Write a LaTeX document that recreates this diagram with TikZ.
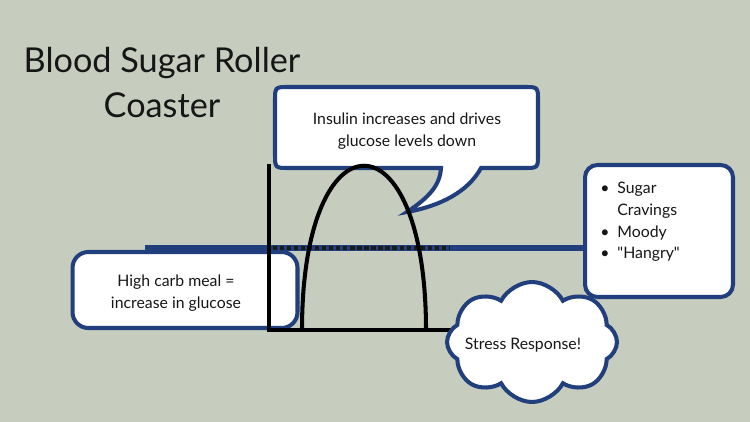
\documentclass[tikz,border=0pt]{standalone}
\usepackage{fontspec}
\setmainfont{Lato}[Ligatures=TeXOff]
\usetikzlibrary{shapes.symbols}
\definecolor{bg}{RGB}{198,205,191}
\definecolor{navy}{RGB}{33,63,124}
\definecolor{ink}{RGB}{22,22,22}
\tikzset{
  bluebox/.style={draw=navy, line width=2.3pt, fill=white, rounded corners=7pt, inner sep=0pt},
  txt/.style={text=ink, font=\fontsize{9}{12.3}\selectfont, align=center, inner sep=0pt},
  titletxt/.style={text=ink, font=\fontsize{19.5}{25}\selectfont, inner sep=0pt, anchor=base},
  blackline/.style={draw=black, line width=2.3pt},
}
\begin{document}
\begin{tikzpicture}[x=0.02cm, y=-0.02cm]
\fill[bg] (0,0) rectangle (750,422);
\useasboundingbox (0,0) rectangle (750,422);

% title
\node[titletxt] (t1) at (162,73) {Blood Sugar Roller};
\node[titletxt] (t2) at (162,118) {Coaster};

% baseline (blue) with dashed overlay
\coordinate (bl) at (145,248);
\coordinate (br) at (588,248);
\draw[navy, line width=2.9pt] (bl) -- (br);
\coordinate (dl) at (273,248);
\coordinate (dr) at (450,248);
\draw[black!90, line width=1.9pt, dash pattern=on 2.4pt off 1.6pt] (dl) -- (dr);

% left box
\node[bluebox, minimum width=4.5cm, minimum height=1.52cm, rounded corners=9pt] (lbox) at (185,290) {};
\node[txt] (ltext) at (176,293) {High carb meal =\\increase in glucose};

% axes
\coordinate (ay) at (269,164);
\coordinate (o) at (269,330);
\coordinate (ax) at (452,330);
\draw[blackline, line join=miter] (ay) -- (o) -- (ax);

% top speech bubble
\draw[draw=navy, line width=2.3pt, fill=white]
  (289,87) -- (524,87) .. controls (538,87) .. (538,101) -- (538,154)
  .. controls (538,168) .. (524,168) -- (481,168)
  .. controls (468,192) and (440,206) .. (407,212)
  .. controls (428,198) and (440,186) .. (441,168)
  -- (289,168) .. controls (275,168) .. (275,154) -- (275,101)
  .. controls (275,87) .. (289,87) -- cycle;
\node[txt] (itext) at (407,131) {Insulin increases and drives\\glucose levels down};

% curve
\coordinate (c0) at (302,330);
\coordinate (c1) at (426,330);
\draw[blackline] (c0) .. controls (302,111) and (426,111) .. (c1);

% cloud
\node[cloud, cloud puffs=8, cloud puff arc=125, draw=navy, line width=2.3pt, fill=white,
      minimum width=3.4cm, minimum height=2.4cm, aspect=1.42, shape border rotate=10] (cloud) at (532,342) {};
\node[txt] (ctext) at (523,345) {Stress Response!};

% right box
\node[bluebox, minimum width=2.96cm, minimum height=2.64cm] (rbox) at (659,231) {};
\node[txt, anchor=base west, align=left] (rtext) at (600,194)
  {\begin{tabular}[t]{@{}l@{\hspace{4.5pt}}l@{}}\textbullet & Sugar\\ & Cravings\\ \textbullet & Moody\\ \textbullet & "Hangry"\end{tabular}};
\end{tikzpicture}
\end{document}
